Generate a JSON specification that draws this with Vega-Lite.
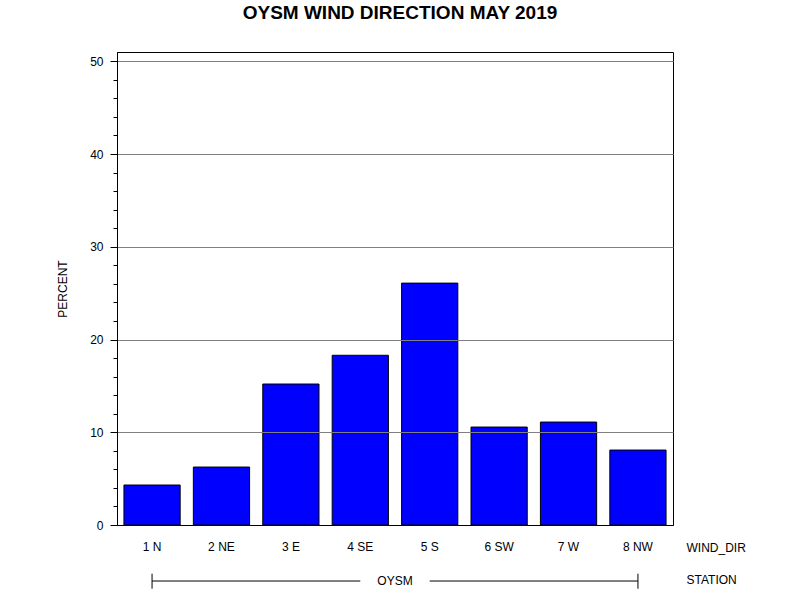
{
  "$schema": "https://vega.github.io/schema/vega-lite/v6.json",
  "autosize": {"type": "none"},
  "padding": {"left": 117, "top": 52, "right": 127, "bottom": 75},
  "width": 556,
  "height": 473,
  "background": "white",
  "title": {
    "text": "OYSM WIND DIRECTION MAY 2019",
    "font": "Liberation Sans",
    "fontSize": 19,
    "fontWeight": "bold",
    "color": "black",
    "anchor": "middle",
    "dx": 5,
    "offset": 14,
    "baseline": "alphabetic"
  },
  "config": {
    "view": {"stroke": "black", "strokeWidth": 1},
    "axis": {"labelFont": "Liberation Sans", "titleFont": "Liberation Sans", "labelColor": "black", "titleColor": "black"}
  },
  "datasets": {
    "bars": [
      {"WIND_DIR": "1 N", "PERCENT": 4.31},
      {"WIND_DIR": "2 NE", "PERCENT": 6.25},
      {"WIND_DIR": "3 E", "PERCENT": 15.2},
      {"WIND_DIR": "4 SE", "PERCENT": 18.3},
      {"WIND_DIR": "5 S", "PERCENT": 26.08},
      {"WIND_DIR": "6 SW", "PERCENT": 10.56},
      {"WIND_DIR": "7 W", "PERCENT": 11.1},
      {"WIND_DIR": "8 NW", "PERCENT": 8.08}
    ],
    "segments": [
      {"from": "1 N", "to": "4 SE"},
      {"from": "5 S", "to": "8 NW"}
    ],
    "ends": [{"end": "1 N"}, {"end": "8 NW"}],
    "station": [{"STATION": "OYSM"}]
  },
  "layer": [
    {
      "data": {"name": "bars"},
      "mark": {"type": "bar", "fill": "#0000FF", "stroke": "black", "strokeWidth": 1},
      "encoding": {
        "x": {
          "field": "WIND_DIR",
          "type": "nominal",
          "scale": {
            "domain": ["1 N", "2 NE", "3 E", "4 SE", "5 S", "6 SW", "7 W", "8 NW"],
            "paddingInner": 0.19,
            "paddingOuter": 0.1
          },
          "axis": {
            "title": ["WIND_DIR", "STATION"],
            "titleFontSize": 12,
            "titleFontWeight": "normal",
            "titleAlign": "left",
            "titleBaseline": "top",
            "titleX": 569,
            "titleY": 17,
            "titleLineHeight": 32.5,
            "titleAngle": 0,
            "labelAngle": 0,
            "labelFontSize": 12,
            "labelPadding": 16,
            "ticks": false,
            "domainColor": "black",
            "grid": false
          }
        },
        "y": {
          "field": "PERCENT",
          "type": "quantitative",
          "scale": {"domain": [0, 51], "nice": false},
          "axis": {
            "title": "PERCENT",
            "titleFontSize": 12,
            "titleFontWeight": "normal",
            "titlePadding": 20,
            "values": [0, 2, 4, 6, 8, 10, 12, 14, 16, 18, 20, 22, 24, 26, 28, 30, 32, 34, 36, 38, 40, 42, 44, 46, 48, 50],
            "tickCount": 30,
            "labelExpr": "datum.value % 10 === 0 ? datum.label : ''",
            "labelOverlap": false,
            "labelFontSize": 12,
            "labelPadding": 7,
            "tickColor": "black",
            "tickSize": {"condition": {"test": "datum.value % 10 === 0", "value": 7}, "value": 4},
            "grid": true,
            "gridColor": "#808080",
            "gridWidth": 1,
            "gridOpacity": {"condition": {"test": "datum.value % 10 === 0 && datum.value > 0", "value": 1}, "value": 0},
            "domainColor": "black",
            "zindex": 1
          }
        }
      }
    },
    {
      "data": {"name": "segments"},
      "mark": {"type": "rule", "color": "black", "strokeWidth": 1},
      "encoding": {
        "x": {"field": "from", "type": "nominal"},
        "x2": {"field": "to"},
        "y": {"datum": -6.04, "type": "quantitative"}
      }
    },
    {
      "data": {"name": "ends"},
      "mark": {"type": "rule", "color": "black", "strokeWidth": 1},
      "encoding": {
        "x": {"field": "end", "type": "nominal"},
        "y": {"datum": -5.25, "type": "quantitative"},
        "y2": {"datum": -6.87}
      }
    },
    {
      "data": {"name": "station"},
      "mark": {"type": "text", "font": "Liberation Sans", "fontSize": 12, "baseline": "middle", "align": "center", "color": "black"},
      "encoding": {
        "text": {"field": "STATION"},
        "y": {"datum": -6.04, "type": "quantitative"}
      }
    }
  ]
}
